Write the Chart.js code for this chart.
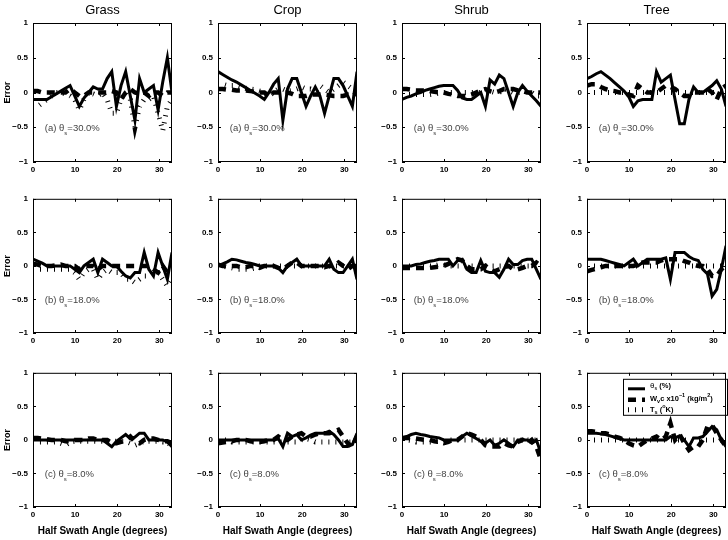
<!DOCTYPE html>
<html><head><meta charset="utf-8">
<script src="https://cdn.jsdelivr.net/npm/chart.js@4.4.1/dist/chart.umd.min.js"></script>
<style>
html,body{margin:0;padding:0;background:#fff}
body{width:728px;height:540px;overflow:hidden;position:relative}
.p{position:absolute}
</style></head><body>
<script>
// ---------- data ----------
const angles = [0,1.1,2.2,3.3,4.4,5.5,6.6,7.7,8.8,9.9,11,12.1,13.2,14.3,15.4,16.5,17.6,18.7,19.8,20.9,22,23.1,24.2,25.3,26.4,27.5,28.6,29.7,30.8,31.9,33];
const columnTitles = ['Grass','Crop','Shrub','Tree'];
const rowLetters = ['(a)','(b)','(c)'];
const rowTheta = ['=30.0%','=18.0%','=8.0%'];
const yTickValues = [-1,-0.5,0,0.5,1];
const xTickValues = [0,10,20,30];
const xAxisTitle = 'Half Swath Angle (degrees)';
const yAxisTitle = 'Error';

// Grass
const grassA_theta = [-0.1,-0.1,-0.1,-0.1,-0.06,-0.02,0.02,0.06,0.1,-0.05,-0.2,-0.08,0,0.08,0.05,0.05,0.2,0.3,-0.2,0.1,0.3,-0.05,-0.4,0.2,0,0.05,0.1,-0.25,0.15,0.5,0];
const grassA_wv    = [0.02,0.02,0,0,0,0,0,0,0.05,0,-0.05,-0.05,0,0,0,0,0,0.02,0,-0.1,0,0.05,0,-0.02,0,-0.05,0,0,-0.05,0,0];
const grassA_ts    = [-0.2,-0.2,-0.15,-0.1,-0.05,0,0,-0.02,-0.05,-0.1,-0.25,-0.1,0,-0.02,-0.05,0,-0.1,-0.3,-0.3,-0.1,0,-0.1,-0.5,-0.2,-0.1,-0.1,-0.05,-0.3,-0.55,-0.2,-0.1];
const grassB_theta = [0.1,0.07,0.04,0,0,0,0,0,0,-0.05,-0.1,0,0.05,0.1,-0.1,0.1,0.05,0,0,-0.08,-0.15,-0.18,-0.1,-0.1,0.2,-0.05,-0.15,0.2,0,-0.2,0.2];
const grassB_wv    = [0.03,0.02,0,0,0,0.01,0.02,0,0,0,-0.05,0,0,0,-0.05,0,0,0,0,0,0,0,0,0,0,0,-0.05,-0.1,0,-0.1,-0.05];
const grassB_ts    = [-0.05,-0.05,-0.05,-0.05,-0.05,-0.05,-0.05,-0.05,-0.05,-0.1,-0.2,-0.1,-0.05,-0.05,-0.2,-0.1,-0.05,-0.1,-0.1,-0.1,-0.2,-0.2,-0.25,-0.2,-0.15,-0.15,-0.1,-0.1,-0.2,-0.3,-0.2];
const grassC_theta = [0,0,0,0,0,0,0,0,0,0,0,0,0,0,0,0,-0.05,-0.1,-0.02,0.03,0.08,0.02,0.04,0.1,0.1,0,0,0,0,-0.03,-0.1];
const grassC_wv    = [0.03,0.03,0.02,0.01,0,0,0,-0.02,-0.02,0,0,0,0.02,0.02,0,0,0,-0.05,-0.05,-0.03,0,0.05,-0.03,-0.05,0,0.02,0.02,0,-0.02,-0.02,-0.05];
const grassC_ts    = [-0.02,-0.03,-0.03,-0.03,-0.03,-0.03,-0.05,-0.08,-0.03,-0.02,-0.02,-0.02,-0.02,-0.02,-0.02,-0.02,-0.02,-0.02,-0.02,-0.02,-0.02,-0.05,-0.08,-0.05,-0.02,-0.02,-0.02,-0.02,-0.03,-0.03,-0.1];
// Crop
const cropA_theta = [0.3,0.26,0.22,0.18,0.15,0.11,0.07,0.03,-0.01,-0.05,-0.1,0,0.12,0.2,-0.4,0.05,0.2,0.2,0,-0.2,-0.05,0.08,-0.05,-0.3,-0.05,0.2,0.2,0.1,-0.05,-0.2,0.3];
const cropA_wv    = [0.05,0.05,0.04,0.04,0.03,0.03,0.03,0.02,0.01,0,0,-0.05,0,0,0,0,-0.02,-0.05,-0.05,-0.05,-0.03,-0.03,-0.03,-0.03,-0.04,-0.05,-0.05,-0.05,-0.03,-0.05,0];
const cropA_ts    = [0.12,0.12,0.1,0.1,0.1,0.08,0.06,0.05,0.04,0.02,0,-0.05,0,0.05,0.05,0.02,0.03,0.05,0.08,0.05,0.05,0.03,0.1,0.05,0,0.05,0.1,0.15,0.1,0.05,0.05];
const cropB_theta = [0,0.03,0.06,0.1,0.09,0.07,0.05,0.04,0.02,0,0,0,0,-0.03,-0.1,0,0.05,0.1,0,0,0,0,0,0,0.1,-0.05,-0.1,-0.1,0,0.1,-0.2];
const cropB_wv    = [0.02,0,0,0,0,-0.02,-0.02,0,0,-0.03,0,0,0,-0.03,-0.05,0,0.05,0.05,0,0,0,0,0,-0.02,0,0,0.05,0,-0.05,0,0];
const cropB_ts    = [0,0,-0.02,-0.03,-0.05,-0.05,-0.05,-0.05,-0.03,0,0,0,0,0,0,0,0,0,0,0,0,0,0,0,0,0,0,0,0,0,0];
const cropC_theta = [0,0,0,0,0,0,0,0,0,0,0,0,0,0.02,-0.1,0.1,0.05,0.08,0,0.03,0.07,0.1,0.1,0.1,0.13,0.08,0,-0.1,-0.1,-0.07,0.1];
const cropC_wv    = [-0.05,-0.04,-0.03,-0.02,0,0,0,-0.02,-0.03,-0.03,-0.02,0,0,0.05,0,0,0.05,0.08,0.1,0.05,0.05,0.08,0.1,0.1,0.1,0.12,0.15,0.05,-0.05,-0.1,0.05];
const cropC_ts    = [0,0,0,-0.03,-0.03,-0.03,-0.03,-0.03,-0.03,-0.03,-0.03,-0.03,-0.03,-0.03,-0.03,-0.03,-0.03,-0.03,0,0.02,0,-0.03,-0.03,-0.03,-0.03,-0.03,-0.03,-0.03,-0.03,-0.03,-0.03];
// Shrub
const shrubA_theta = [-0.1,-0.07,-0.05,-0.02,0,0.03,0.05,0.07,0.09,0.1,0.1,0.1,0.03,-0.08,-0.1,-0.1,-0.05,0,-0.2,0.18,0.12,0.25,0.2,0,-0.2,0,0.1,0.02,-0.05,-0.12,-0.2];
const shrubA_wv    = [0.05,0.05,0.04,0.03,0.03,0.03,0.02,0.01,0,0,-0.02,-0.03,-0.05,-0.05,-0.05,-0.03,0,0.03,0.05,0.02,0,0.02,0.05,0.05,0.05,0.03,0.02,0,0,0,0];
const shrubA_ts    = [-0.03,-0.03,-0.03,-0.03,-0.03,-0.03,-0.03,-0.02,-0.01,0,0,0,0,0,0,0,0,0,0,0.02,0,0,0.05,0.03,0,0,0,0.02,0,-0.05,-0.05];
const shrubB_theta = [0,0,0,0.02,0.03,0.05,0.07,0.08,0.1,0.1,0.1,0,0.08,0.1,-0.05,-0.1,-0.1,0.08,-0.08,-0.1,-0.1,-0.17,-0.05,0.1,0.02,0.02,0.08,0.1,0.1,-0.05,-0.2];
const shrubB_wv    = [-0.03,-0.03,-0.03,-0.03,-0.03,-0.03,-0.03,-0.02,-0.01,0,0.03,0.07,0.1,0.08,0,-0.05,-0.05,-0.05,0,-0.05,-0.08,-0.05,-0.02,0,-0.05,-0.05,-0.03,0,0,0.05,0];
const shrubB_ts    = [0,0,0,0,0,0,0,0,0.02,0.02,0,0,0,0,0,0,0,0,0,0,0,0,0,0,0,0,0,0,0,0,0];
const shrubC_theta = [0.03,0.05,0.08,0.1,0.08,0.07,0.05,0.04,0.03,0,0,0,0,0.05,0.1,0.06,0.02,-0.02,-0.05,0,-0.08,-0.05,0,-0.05,-0.1,0,0,0,-0.05,0,-0.2];
const shrubC_wv    = [0.03,0.03,0.02,0.02,0.01,0,0,-0.02,-0.03,-0.05,-0.03,0,0,0.05,0.1,0.08,0.05,0,-0.08,-0.1,-0.1,-0.1,-0.05,-0.08,-0.1,-0.03,0,-0.05,0,-0.1,-0.3];
const shrubC_ts    = [0,0,-0.01,-0.03,-0.03,-0.03,-0.03,-0.03,-0.02,-0.02,0,0,0,0,0,0,0,0,0,0,0,0,0,0,0,0,0,0,0,0,0];
// Tree
const treeA_theta = [0.2,0.23,0.27,0.3,0.25,0.2,0.14,0.08,0.02,-0.06,-0.2,-0.12,-0.1,-0.1,-0.1,0.3,0.15,0.2,0.25,-0.1,-0.45,-0.45,-0.1,0.08,0,0,0.05,0.1,0.17,0.05,-0.2];
const treeA_wv    = [0.1,0.12,0.12,0.08,0.05,0.03,0.02,0,0,-0.03,-0.05,0.1,0.05,0,0,0,0.05,0.1,0.08,0.05,0,-0.05,-0.05,0,0,0,0.05,0,-0.1,0.05,0.1];
const treeA_ts    = [0,0,0,0,0,0,0,0,0,0,0,0,0,0,0,0,0,0,0,0,0,0,0,0,0,0,0,0,0,0,0];
const treeB_theta = [0.1,0.1,0.1,0.1,0.08,0.06,0.04,0.02,0,0.05,0.1,0,0.05,0.1,0.1,0.1,0.1,0.12,-0.2,0.2,0.2,0.2,0.14,0.1,0.08,-0.05,-0.12,-0.45,-0.35,-0.05,0.3];
const treeB_wv    = [-0.08,-0.06,-0.04,-0.02,0,0,0,0,0,0,0,0.02,0.05,0.05,0.05,0.05,0.08,0.1,0.1,0.1,0.1,0.07,0.05,0.02,0,0,-0.05,-0.15,-0.15,-0.05,0];
const treeB_ts    = [0,0,0,0,0,0,0,0,0,0,0,0,0,0,0,0,0,0,0,0,0,0,0,0,0,0,0,0,0,0,0];
const treeC_theta = [0.1,0.1,0.1,0.09,0.08,0.06,0.04,0.02,0,0,0,0,0,0,0,0,0,0,0.05,0.03,0.06,0,-0.1,0.03,0.03,0.05,0.12,0.2,0.15,0,-0.1];
const treeC_wv    = [0.13,0.13,0.12,0.1,0.1,0.08,0.05,0.03,0,-0.05,-0.08,-0.1,-0.05,0,0.02,0.05,0,0.05,0.25,0,0.08,-0.05,-0.15,-0.1,-0.1,0,0.2,0.22,0.1,0,-0.1];
const treeC_ts    = [0,0,0,0,0,0,0,0,0,0,0,0,0,0,0,0,0,0,0,0,0,0,0,0,0,0,0,0,0,0,0];

const panelSeries = [
  [[grassA_theta,grassA_wv,grassA_ts],[cropA_theta,cropA_wv,cropA_ts],[shrubA_theta,shrubA_wv,shrubA_ts],[treeA_theta,treeA_wv,treeA_ts]],
  [[grassB_theta,grassB_wv,grassB_ts],[cropB_theta,cropB_wv,cropB_ts],[shrubB_theta,shrubB_wv,shrubB_ts],[treeB_theta,treeB_wv,treeB_ts]],
  [[grassC_theta,grassC_wv,grassC_ts],[cropC_theta,cropC_wv,cropC_ts],[shrubC_theta,shrubC_wv,shrubC_ts],[treeC_theta,treeC_wv,treeC_ts]]
];

// ---------- layout ----------
const FONT = '"Liberation Sans", Arial, Helvetica, sans-serif';
const plotLefts = [33,218,402,587];
const PW = 139, PH = 139, YW = 33, RP = 3;
const rowBoxes = [
  {top:0,   padTop:0, height:179},
  {top:189, padTop:5, height:161},
  {top:363, padTop:5, height:177}
];

const lineStyles = [
  {borderWidth:3, borderDash:[]},
  {borderWidth:4.5, borderDash:[8,6]},
  {borderWidth:5, borderDash:[1,6]}
];

const fmtMinus = v => String(v).replace('-', '\u2212');

// frame + inward ticks
const framePlugin = {
  id:'frame',
  afterDraw(chart){
    const {ctx, chartArea:a, scales} = chart;
    ctx.save();
    ctx.strokeStyle = '#000'; ctx.lineWidth = 1;
    ctx.strokeRect(a.left+0.5, a.top+0.5, a.right-a.left-1, a.bottom-a.top-1);
    ctx.beginPath();
    xTickValues.forEach(v=>{
      const x = Math.round(scales.x.getPixelForValue(v))+0.5;
      ctx.moveTo(x,a.bottom); ctx.lineTo(x,a.bottom-3);
      ctx.moveTo(x,a.top); ctx.lineTo(x,a.top+3);
    });
    yTickValues.forEach(v=>{
      const y = Math.round(scales.y.getPixelForValue(v))+0.5;
      ctx.moveTo(a.left,y); ctx.lineTo(a.left+3,y);
      ctx.moveTo(a.right,y); ctx.lineTo(a.right-3,y);
    });
    ctx.stroke();
    ctx.restore();
  }
};

function drawRich(ctx, parts, x, y, off){
  let cx = x;
  parts.forEach(([t,mode,font,sfont])=>{
    ctx.font = mode==='n' ? font : sfont;
    const dy = mode==='sub' ? off : (mode==='sup' ? -off : 0);
    ctx.fillText(t, cx, y+dy);
    cx += ctx.measureText(t).width;
  });
}

const annotPlugin = {
  id:'annot',
  afterDatasetsDraw(chart, args, opts){
    const {ctx, scales} = chart;
    const x = scales.x.getPixelForValue(2.8);
    const y = scales.y.getPixelForValue(-0.5) + 4;
    ctx.save();
    ctx.fillStyle = '#444';
    ctx.textBaseline = 'alphabetic';
    const f = '9.5px ' + FONT, sf = '6px ' + FONT;
    drawRich(ctx, [[opts.letter+' \u03B8','n',f,sf],['s','sub',f,sf],[opts.theta,'n',f,sf]], x, y, 4);
    ctx.restore();
    if (opts.legend){
      const a = chart.chartArea;
      const bx = a.left + 36, by = a.top + 6, bw = a.right - bx + 2, bh = 37;
      ctx.save();
      ctx.fillStyle = '#fff';
      ctx.fillRect(bx, by, bw, bh);
      ctx.strokeStyle = '#000'; ctx.lineWidth = 1;
      ctx.strokeRect(bx+0.5, by+0.5, bw-1, bh-1);
      const lx0 = bx + 5, lx1 = bx + 22, tx = bx + 27;
      const rows = [by+10, by+21, by+31];
      lineStyles.forEach((s,i)=>{
        ctx.beginPath();
        ctx.lineWidth = s.borderWidth; ctx.setLineDash(s.borderDash);
        ctx.moveTo(lx0, rows[i]); ctx.lineTo(lx1, rows[i]); ctx.stroke();
      });
      ctx.setLineDash([]);
      ctx.fillStyle = '#000';
      ctx.textBaseline = 'middle';
      const nf = '8px ' + FONT, nsf = '5.5px ' + FONT;
      const bf = 'bold 7.5px ' + FONT, bsf = 'bold 5.5px ' + FONT;
      drawRich(ctx, [['\u03B8','n',nf,nsf],['s','sub',nf,nsf],[' (%)','n',bf,bsf]], tx, rows[0]-3, 3);
      drawRich(ctx, [['W','n',bf,bsf],['v','sub',bf,bsf],['c x10','n',bf,bsf],['\u22121','sup',bf,bsf],[' (kg/m','n',bf,bsf],['2','sup',bf,bsf],[')','n',bf,bsf]], tx, rows[1]-1, 3);
      drawRich(ctx, [['T','n',bf,bsf],['s','sub',bf,bsf],[' (','n',bf,bsf],['o','sup',bf,bsf],['K)','n',bf,bsf]], tx, rows[2], 3);
      ctx.restore();
    }
  }
};

for (let r=0; r<3; r++){
  for (let c=0; c<4; c++){
    const box = rowBoxes[r];
    const div = document.createElement('div');
    div.className = 'p';
    div.style.left = (plotLefts[c]-YW)+'px';
    div.style.top = box.top+'px';
    div.style.width = (YW+PW+RP)+'px';
    div.style.height = box.height+'px';
    const cv = document.createElement('canvas');
    div.appendChild(cv);
    document.body.appendChild(div);
    const xH = box.height - box.padTop - PH - (r===0 ? 23 : 0);
    const series = panelSeries[r][c];
    new Chart(cv, {
      type:'line',
      data:{
        datasets: series.map((vals,i)=>({
          data: angles.map((a,k)=>({x:a, y:vals[k]})),
          borderColor:'#000', backgroundColor:'#000',
          borderWidth: lineStyles[i].borderWidth,
          borderDash: lineStyles[i].borderDash,
          pointRadius:0, tension:0, fill:false,
          borderCapStyle:'butt', borderJoinStyle:'miter'
        })).reverse()
      },
      options:{
        responsive:true, maintainAspectRatio:false, animation:false,
        devicePixelRatio:1,
        layout:{padding:{top:box.padTop, right:RP, left:0, bottom:0}},
        plugins:{
          legend:{display:false}, tooltip:{enabled:false},
          title:{display:r===0, text:columnTitles[c], fullSize:false, color:'#000',
            font:{family:FONT, size:13, weight:'normal', lineHeight:1.2}, padding:{top:3,bottom:4.4}},
          annot:{letter:rowLetters[r], theta:rowTheta[r], legend:(r===2&&c===3)}
        },
        scales:{
          x:{type:'linear', min:0, max:33,
            afterFit(s){ s.height = xH; },
            grid:{display:false, drawTicks:false},
            border:{display:false},
            ticks:{stepSize:10, includeBounds:false, padding:3, color:'#000', maxRotation:0,
              font:{family:FONT, size:8, weight:'bold'}, callback:v=>fmtMinus(v)},
            title:{display:r===2, text:xAxisTitle, color:'#000', padding:{top:0,bottom:3},
              font:{family:FONT, size:10, weight:'bold', lineHeight:1.2}}
          },
          y:{type:'linear', min:-1, max:1,
            afterFit(s){ s.width = YW; },
            grid:{display:false, drawTicks:false},
            border:{display:false},
            ticks:{stepSize:0.5, padding:5, color:'#000',
              font:{family:FONT, size:8, weight:'bold'}, callback:v=>fmtMinus(v)},
            title:{display:c===0, text:yAxisTitle, color:'#000', padding:{top:2.5,bottom:0},
              font:{family:FONT, size:9, weight:'bold', lineHeight:1.2}}
          }
        }
      },
      plugins:[framePlugin, annotPlugin]
    });
  }
}
</script>
</body></html>
